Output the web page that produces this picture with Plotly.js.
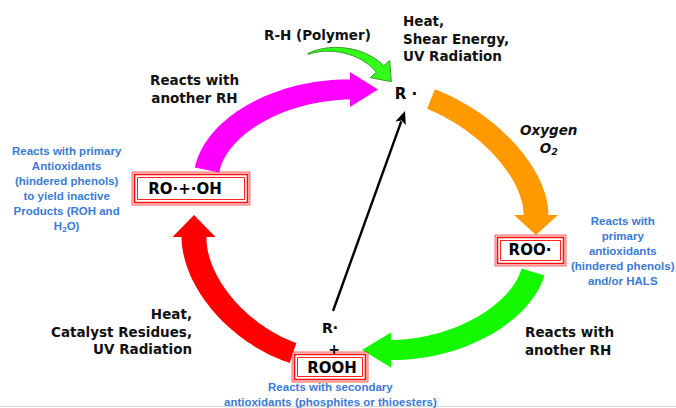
<!DOCTYPE html>
<html><head><meta charset="utf-8">
<script src="https://cdn.plot.ly/plotly-3.0.1.min.js"></script>
<style>html,body{margin:0;padding:0;background:#fff}#chart{width:676px;height:408px}</style>
</head><body><div id="chart"></div>
<script>
// ---------- content (text of the diagram) ----------
const nodeLabels = ['R ·', 'ROO·', 'ROOH', 'RO·+·OH'];
const roohExtras = ['R·', '+'];
const initLabels = ['R-H (Polymer)', 'Heat,<br>Shear Energy,<br>UV Radiation'];
const stepLabels = ['<i>Oxygen</i><br><i>O<sub>2</sub></i>', 'Reacts with<br>another RH', 'Heat,<br>Catalyst Residues,<br>UV Radiation', 'Reacts with<br>another RH'];
const antioxNotes = [
  'Reacts with<br>primary<br>antioxidants<br>(hindered phenols)<br>and/or HALS',
  'Reacts with secondary<br>antioxidants (phosphites or thioesters)',
  'Reacts with primary<br>Antioxidants<br>(hindered phenols)<br>to yield inactive<br>Products (ROH and<br>H<sub>2</sub>O)'
];

// ---------- geometry & style (diagram layout, pixel-like data units) ----------
const geom = {
  nodes: [[406, 95], [530, 251], [332, 369], [185, 190]],
  boxes: [null, [495, 235, 566, 266], [292, 352, 368, 382], [132, 172, 250, 205]],
  extras: [[330, 329], [334, 350]],
  arrows: [ // cubic centerline P0..P3 (P3 = head base), widths, head half-width, head length
    {p: [[431, 99], [489, 122], [536, 174], [536, 215]], w0: 21, w1: 25, hw: 22, hl: 20, c: '#FF9900'},
    {p: [[533, 272], [520, 315], [456, 350], [391, 350]], w0: 24, w1: 20, hw: 17.5, hl: 29, c: '#14F800'},
    {p: [[293, 353], [238, 334], [194, 282], [194, 237]], w0: 21, w1: 25, hw: 21.5, hl: 22, c: '#FF0000'},
    {p: [[207, 170], [216, 126], [280, 89.5], [350, 89.5]], w0: 25, w1: 20, hw: 17.5, hl: 28, c: '#FF00FF'},
    {p: [[308, 54], [332, 44], [364, 51], [380, 69]], w0: 1, w1: 10, hw: 13, hl: 17, c: '#33FF1A', line: '#2E9A1E'}
  ],
  blackArrow: {from: [333, 311], to: [405, 111], width: 2.4, hl: 13, hw: 5.5},
  initPos: [[317, 35, 'center'], [401, 38, 'left']],
  stepPos: [[548, 139, 'center'], [194, 89, 'center'], [194, 331, 'right'], [523, 341, 'left']],
  notePos: [[67, 189], [623, 251], [330, 394]]
};
const blackFont = {family: 'DejaVu Sans, sans-serif', size: 13.5, color: '#111', weight: 'bold'};
const blueFont = {family: 'Liberation Sans, Arial, sans-serif', size: 11.5, color: '#3A7BD5', weight: 'bold'};
// note order: right (ROO), bottom (ROOH), left (RO)
const noteOrderPos = [geom.notePos[1], geom.notePos[2], geom.notePos[0]];

function bez(p, t) {
  const u = 1 - t;
  const a = u*u*u, b = 3*u*u*t, c = 3*u*t*t, d = t*t*t;
  return [a*p[0][0]+b*p[1][0]+c*p[2][0]+d*p[3][0], a*p[0][1]+b*p[1][1]+c*p[2][1]+d*p[3][1]];
}
function bezD(p, t) {
  const u = 1 - t;
  const dx = 3*u*u*(p[1][0]-p[0][0]) + 6*u*t*(p[2][0]-p[1][0]) + 3*t*t*(p[3][0]-p[2][0]);
  const dy = 3*u*u*(p[1][1]-p[0][1]) + 6*u*t*(p[2][1]-p[1][1]) + 3*t*t*(p[3][1]-p[2][1]);
  const L = Math.hypot(dx, dy) || 1;
  return [dx/L, dy/L];
}
function toPath(pts) {
  return 'M' + pts.map(q => q[0].toFixed(1) + ',' + q[1].toFixed(1)).join('L') + 'Z';
}
function arrowPath(a) {
  const N = 48, L = [], R = [];
  for (let i = 0; i <= N; i++) {
    const t = i / N, pt = bez(a.p, t), d = bezD(a.p, t), n = [-d[1], d[0]];
    const w = (a.w0 + (a.w1 - a.w0) * t) / 2;
    L.push([pt[0] + n[0]*w, pt[1] + n[1]*w]);
    R.push([pt[0] - n[0]*w, pt[1] - n[1]*w]);
  }
  const e = a.p[3], d = bezD(a.p, 1), n = [-d[1], d[0]];
  const h1 = [e[0] + n[0]*a.hw, e[1] + n[1]*a.hw];
  const tip = [e[0] + d[0]*a.hl, e[1] + d[1]*a.hl];
  const h2 = [e[0] - n[0]*a.hw, e[1] - n[1]*a.hw];
  return toPath(L.concat([h1, tip, h2]).concat(R.slice().reverse()));
}

const shapes = [];
geom.arrows.forEach(a => {
  shapes.push({type: 'path', xref: 'x', yref: 'y', path: arrowPath(a), fillcolor: a.c,
    line: {color: a.line || a.c, width: a.line ? 1 : 0}, layer: 'below'});
});
// straight black arrow
(function () {
  const b = geom.blackArrow, dx = b.to[0] - b.from[0], dy = b.to[1] - b.from[1], L = Math.hypot(dx, dy);
  const d = [dx / L, dy / L], n = [-d[1], d[0]];
  const base = [b.to[0] - d[0]*b.hl, b.to[1] - d[1]*b.hl];
  shapes.push({type: 'line', xref: 'x', yref: 'y', x0: b.from[0], y0: b.from[1], x1: base[0] + d[0]*2, y1: base[1] + d[1]*2, line: {color: '#000', width: b.width}});
  shapes.push({type: 'path', xref: 'x', yref: 'y', fillcolor: '#000', line: {color: '#000', width: 0},
    path: toPath([b.to, [base[0] + n[0]*b.hw, base[1] + n[1]*b.hw], [base[0] + d[0]*3, base[1] + d[1]*3], [base[0] - n[0]*b.hw, base[1] - n[1]*b.hw]])});
})();
geom.boxes.forEach(b => {
  if (!b) return;
  const [x0, y0, x1, y1] = b;
  shapes.push({type: 'rect', xref: 'x', yref: 'y', x0, y0, x1, y1, line: {color: 'rgba(255,0,0,0.6)', width: 1}, fillcolor: 'rgba(255,190,190,0.55)', layer: 'below'});
  shapes.push({type: 'rect', xref: 'x', yref: 'y', x0: x0+2.5, y0: y0+2.5, x1: x1-2.5, y1: y1-2.5, line: {color: '#FF1010', width: 1.6}, fillcolor: '#fff', layer: 'below'});
  shapes.push({type: 'rect', xref: 'x', yref: 'y', x0: x0+5.5, y0: y0+5.5, x1: x1-5.5, y1: y1-5.5, line: {color: '#FF2020', width: 1}, fillcolor: '#fff', layer: 'below'});
});
shapes.push({type: 'line', xref: 'x', yref: 'y', x0: 0, x1: 676, y0: 406.5, y1: 406.5, line: {color: '#d8d8d8', width: 1}, layer: 'below'});

const annotations = [];
initLabels.forEach((t, i) => {
  const p = geom.initPos[i];
  annotations.push({x: p[0], y: p[1], xref: 'x', yref: 'y', text: t, showarrow: false, align: p[2], xanchor: p[2], yanchor: 'middle', font: blackFont});
});
stepLabels.forEach((t, i) => {
  const p = geom.stepPos[i];
  annotations.push({x: p[0], y: p[1], xref: 'x', yref: 'y', text: t, showarrow: false, align: p[2], xanchor: p[2], yanchor: 'middle', font: blackFont});
});
antioxNotes.forEach((t, i) => {
  const p = noteOrderPos[i];
  annotations.push({x: p[0], y: p[1], xref: 'x', yref: 'y', text: t, showarrow: false, align: 'center', xanchor: 'center', yanchor: 'middle', font: blueFont});
});

const traces = [
  {type: 'scatter', mode: 'text', x: geom.nodes.map(n => n[0]), y: geom.nodes.map(n => n[1]), text: nodeLabels,
   textposition: 'middle center', textfont: {family: 'DejaVu Sans, sans-serif', size: 15, color: '#000', weight: 'bold'}, hoverinfo: 'skip'},
  {type: 'scatter', mode: 'text', x: geom.extras.map(n => n[0]), y: geom.extras.map(n => n[1]), text: roohExtras,
   textposition: 'middle center', textfont: {family: 'DejaVu Sans, sans-serif', size: 14, color: '#000', weight: 'bold'}, hoverinfo: 'skip'}
];

const layout = {
  width: 676, height: 408, margin: {l: 0, r: 0, t: 0, b: 0},
  paper_bgcolor: '#fff', plot_bgcolor: '#fff', showlegend: false,
  xaxis: {range: [0, 676], visible: false, fixedrange: true},
  yaxis: {range: [408, 0], visible: false, fixedrange: true},
  shapes, annotations
};
Plotly.newPlot('chart', traces, layout, {staticPlot: true, displayModeBar: false});
</script></body></html>
